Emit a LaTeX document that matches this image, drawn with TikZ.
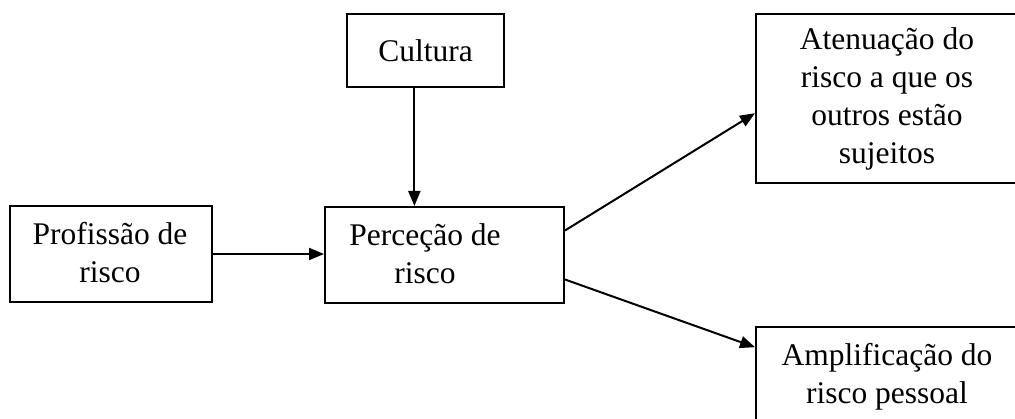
\documentclass[tikz,border=0pt]{standalone}
\usepackage{fontspec}
\setmainfont{Liberation Serif}
\usetikzlibrary{arrows.meta,calc}
\begin{document}
\begin{tikzpicture}[x=1pt,y=-1pt,
  box/.style={draw, line width=2pt, rectangle, inner sep=0pt, anchor=north west},
  lbl/.style={align=center, inner sep=0pt, font=\fontsize{31.5}{38}\selectfont},
  arr/.style={-{Triangle[length=15pt,width=12pt]}, line width=2pt}]
\useasboundingbox (0,0) rectangle (1015,419);
\clip (0,0) rectangle (1015,419);
\node[box, minimum width=157pt, minimum height=73pt] (cult) at (346,13) {};
\node[lbl] (cultt) at (cult.center) {Cultura};
\node[box, minimum width=202pt, minimum height=96pt] (prof) at (9,205) {};
\node[lbl] (proft) at (110,253) {Profissão de\\risco};
\node[box, minimum width=239pt, minimum height=96pt] (perc) at (324,206) {};
\node[lbl] (perct) at (425,254) {Perceção de\\risco};
\node[box, minimum width=264pt, minimum height=169pt] (aten) at (755,13) {};
\node[lbl] (atent) at (887,99) {Atenuação do\\risco a que os\\outros estão\\sujeitos};
\node[box, minimum width=264pt, minimum height=104pt] (amp) at (755,326) {};
\node[lbl] (ampt) at (887,377) {Amplificação do\\risco pessoal};
\coordinate (cs) at ($(cult.south west)!0.43!(cult.south east)$);
\draw[arr] (cs) -- (cs |- perc.north);
\draw[arr] (prof.east) -- (prof.east -| perc.west);
\draw[arr] ($(perc.north east)!0.25!(perc.south east)$) -- ($(aten.north west)!0.586!(aten.south west)$);
\draw[arr] ($(perc.north east)!0.75!(perc.south east)$) -- ($(amp.north west)!0.2!(amp.south west)$);
\end{tikzpicture}
\end{document}
